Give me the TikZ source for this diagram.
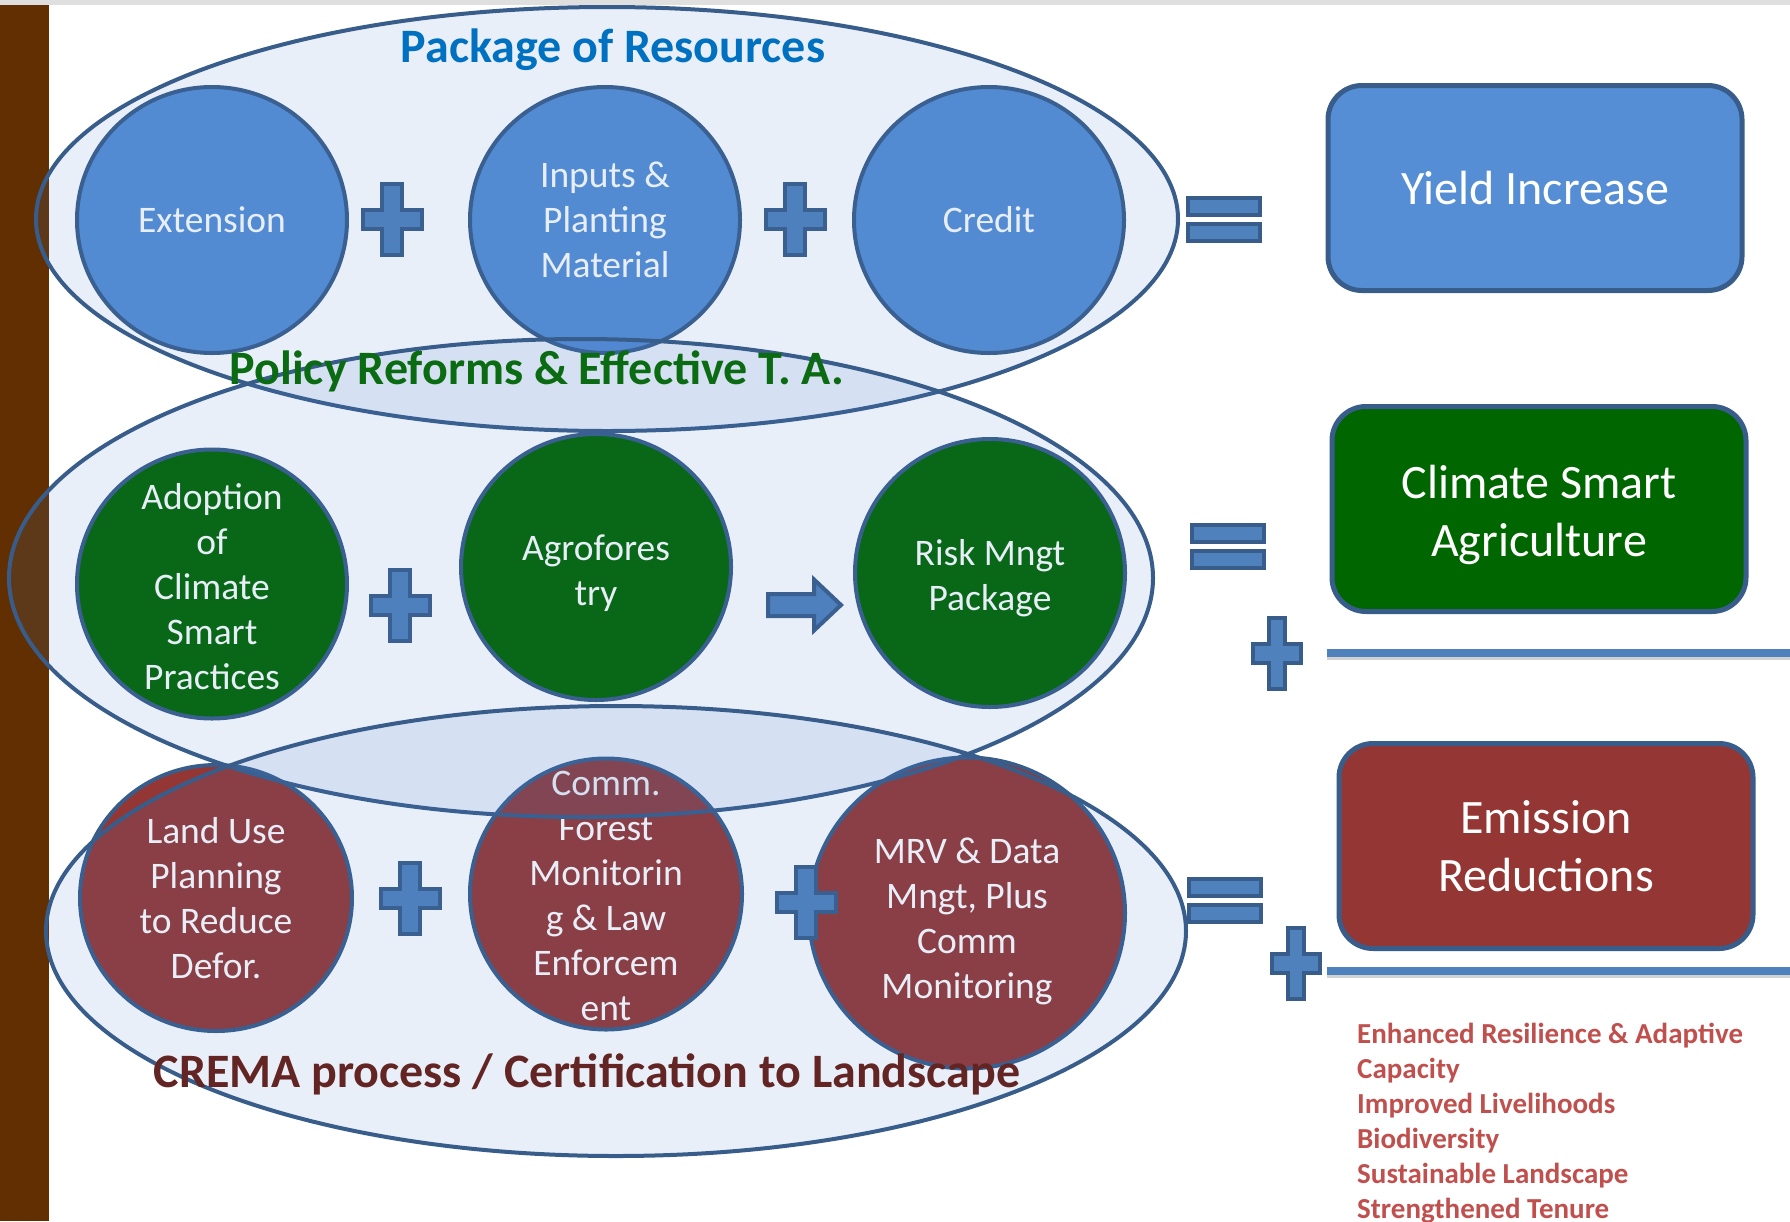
\documentclass[tikz,border=0pt]{standalone}
\usepackage{fontspec}
\setmainfont{Carlito}
\usetikzlibrary{shapes.geometric,positioning}

\definecolor{resblue}{HTML}{558ED5}
\definecolor{csagreen}{HTML}{006600}
\definecolor{erred}{HTML}{943634}
\definecolor{edgeblue}{HTML}{385D8A}
\definecolor{signblue}{HTML}{4F81BD}
\definecolor{haze}{HTML}{487AC5}
\definecolor{barbrown}{HTML}{612F02}
\definecolor{titleblue}{HTML}{0070C0}
\definecolor{titlegreen}{HTML}{0B6B12}
\definecolor{titlered}{HTML}{632523}
\definecolor{benefitred}{HTML}{C0504D}

\begin{document}
\begin{tikzpicture}[x=1pt,y=-1pt,
  circ/.style={ellipse,draw=edgeblue,line width=4pt,inner sep=0pt,
    minimum width=270pt,minimum height=266pt},
  ctext/.style={text=white,align=center,font=\fontsize{37.5}{45}\selectfont},
  group/.style={ellipse,draw=edgeblue,line width=4pt,fill=haze,fill opacity=.12,inner sep=0pt},
  result/.style={rectangle,rounded corners=34pt,draw=edgeblue,line width=5pt,
    minimum width=414pt,minimum height=205pt},
  rtext/.style={text=white,align=center,font=\fontsize{48}{58}\selectfont},
  heading/.style={font=\fontsize{48}{57}\selectfont\bfseries,anchor=base},
  sign/.style={draw=edgeblue,line width=4pt,fill=signblue},
  bond/.style={signblue,line width=8pt,
    preaction={draw=black,draw opacity=.18,line width=8pt,transform canvas={yshift=-3pt}}},
  plus/.pic={\draw[sign] (-10,-35.5) -- (10,-35.5) -- (10,-9.5) -- (29.5,-9.5) -- (29.5,9.5)
    -- (10,9.5) -- (10,35.5) -- (-10,35.5) -- (-10,9.5) -- (-29.5,9.5) -- (-29.5,-9.5)
    -- (-10,-9.5) -- cycle;},
  equal/.pic={\draw[sign] (-36,-21.5) rectangle (36,-4.5);
    \draw[sign] (-36,4.5) rectangle (36,21.5);},
  rarrow/.pic={\draw[sign] (-37,-11) -- (9,-11) -- (9,-25.5) -- (36,0) -- (9,25.5)
    -- (9,11) -- (-37,11) -- cycle;}
]
\useasboundingbox (0,0) rectangle (1790,1221);
\fill[gray!25] (0,0) rectangle (1790,5);
\fill[barbrown] (0,5) rectangle (49,1221);

% package of resources
\node[circ,fill=resblue,label={[ctext]center:Extension}] (ext) at (212,220) {};
\node[circ,fill=resblue,label={[ctext]center:{Inputs \&\\Planting\\Material}}] (inp) at (605,220) {};
\node[circ,fill=resblue,label={[ctext]center:Credit}] (cred) at (989,220) {};
\pic at (392,219) {plus};
\pic at (795,219) {plus};

% climate smart practices
\node[circ,fill=csagreen,minimum height=269pt,
  label={[ctext,yshift=-3pt]center:{Adoption\\of\\Climate\\Smart\\Practices}}] (adopt) at (212,584) {};
\node[circ,fill=csagreen,label={[ctext,yshift=-6pt]center:{Agrofores\\try}}] (agro) at (596,567) {};
\node[circ,fill=csagreen,minimum height=268pt,
  label={[ctext,yshift=-5pt]center:{Risk Mngt\\Package}}] (risk) at (990,573) {};
\pic at (400,605) {plus};
\pic at (805,605) {rarrow};

% emission reductions
\node[circ,fill=erred,minimum width=272pt,
  label={[ctext]center:{Land Use\\Planning\\to Reduce\\Defor.}}] (land) at (216,898) {};
\node[circ,fill=erred,minimum width=272pt,minimum height=271pt,
  label={[ctext,yshift=-2pt]center:{Comm.\\Forest\\Monitorin\\g \& Law\\Enforcem\\ent}}] (comm) at (606,894) {};
\node[circ,fill=erred,minimum width=316pt,minimum height=311pt,
  label={[ctext,yshift=-8pt]center:{MRV \& Data\\Mngt, Plus\\Comm\\Monitoring}}] (mrv) at (967,913) {};
\pic at (410,898) {plus};
\pic at (806,902) {plus};

% groups
\node[group,minimum width=1142pt,minimum height=424pt] (resources) at (607,219) {};
\node[group,minimum width=1144pt,minimum height=478pt] (policy) at (581,578) {};
\node[group,minimum width=1140pt,minimum height=450pt] (crema) at (616,931) {};

\node[heading,text=titleblue] (restitle) at (613,62) {Package of Resources};
\node[heading,text=titlegreen] (poltitle) at (537,384) {Policy Reforms \& Effective T. A.};
\node[heading,text=titlered] (crtitle) at (587,1087) {CREMA process / Certification to Landscape};

% results
\pic at (1224,219.5) {equal};
\pic at (1228,546.5) {equal};
\pic at (1225,900.5) {equal};
\node[result,fill=resblue,label={[rtext]center:Yield Increase}] (yield) at (1535,188) {};
\node[result,fill=csagreen,label={[rtext,yshift=-6pt]center:{Climate Smart\\Agriculture}}] (csa) at (1539,509) {};
\node[result,fill=erred,label={[rtext]center:{Emission\\Reductions}}] (er) at (1546,846) {};

\pic[xscale=.82] at (1277,653) {plus};
\pic[xscale=.82] at (1296,963) {plus};
\coordinate (csaL) at (1327,653);
\coordinate (csaR) at (1790,653);
\coordinate (erL) at (1327,971);
\coordinate (erR) at (1790,971);
\draw[bond] (csaL) -- (csaR);
\draw[bond] (erL) -- (erR);

\node[anchor=north west,inner sep=0pt,align=left,text=benefitred,
  font=\fontsize{29}{35}\selectfont\bfseries] (benefits) at (1357,1023)
  {Enhanced Resilience \& Adaptive\\Capacity\\Improved Livelihoods\\Biodiversity\\Sustainable Landscape\\Strengthened Tenure};
\end{tikzpicture}
\end{document}
